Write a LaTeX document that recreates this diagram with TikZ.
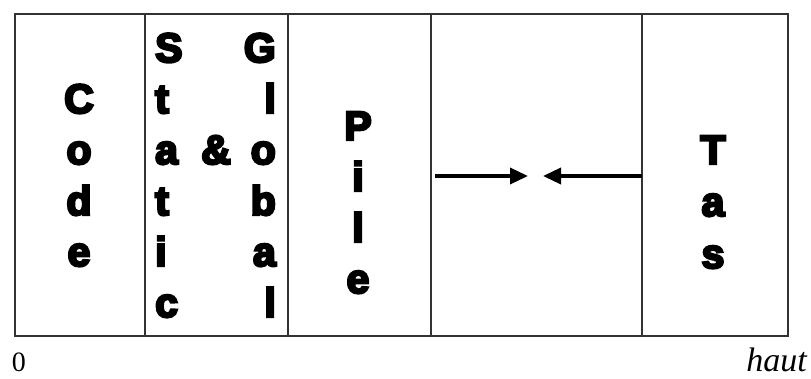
\documentclass[tikz,border=0pt]{standalone}
\usepackage{fontspec}
\setmainfont{Liberation Serif}
\newfontfamily\heavyfont[FakeBold=6]{Liberation Sans Bold}
\usetikzlibrary{arrows.meta}

\begin{document}
\begin{tikzpicture}[x=1pt,y=-1pt,
  frame/.style={draw=black!80, line width=2pt},
  divider/.style={draw=black!80, line width=1.6pt},
  letter/.style={inner sep=0pt, anchor=base,
    font=\heavyfont\fontsize{41}{48}\selectfont},
  growth/.style={line width=3.5pt, -{Triangle[length=18pt,width=16pt]}},
  axislabel/.style={inner sep=0pt, anchor=base}]

\useasboundingbox (0,0) rectangle (811,378);

% memory frame and its segments
\draw[frame] (15,14) rectangle (788,336);
\foreach \x in {145,288,431,642}
  \draw[divider] (\x,14) -- (\x,336);

% Code segment
\foreach \c [count=\i] in {C,o,d,e}
  \node[letter] (code\i) at (79,{113+51*(\i-1)}) {\c};

% Static & Global segment
\foreach \c [count=\i] in {S,t,a,t,i,c}
  \node[letter, anchor=base west] (static\i) at (155,{62+51*(\i-1)}) {\c};
\foreach \c [count=\i] in {G,l,o,b,a,l}
  \node[letter, anchor=base east] (global\i) at (276,{62+51*(\i-1)}) {\c};
\node[letter] (amp) at (216,164) {\&};

% Stack segment
\foreach \c [count=\i] in {P,i,l,e}
  \node[letter] (pile\i) at (358,{140+51*(\i-1)}) {\c};

% Heap segment
\foreach \c [count=\i] in {T,a,s}
  \node[letter] (tas\i) at (713,{164+52*(\i-1)}) {\c};

% growth directions in the free zone
\coordinate (pileEdge) at (435,176);
\coordinate (pileTip) at (528,176);
\coordinate (tasEdge) at (642,176);
\coordinate (tasTip) at (543,176);
\draw[growth] (pileEdge) -- (pileTip);
\draw[growth] (tasEdge) -- (tasTip);

% address axis
\node[axislabel, font=\fontsize{28}{30}\selectfont] (low) at (19,371) {0};
\node[axislabel, anchor=base east, font=\itshape\fontsize{34}{38}\selectfont] (high) at (807,371) {haut};
\end{tikzpicture}
\end{document}
